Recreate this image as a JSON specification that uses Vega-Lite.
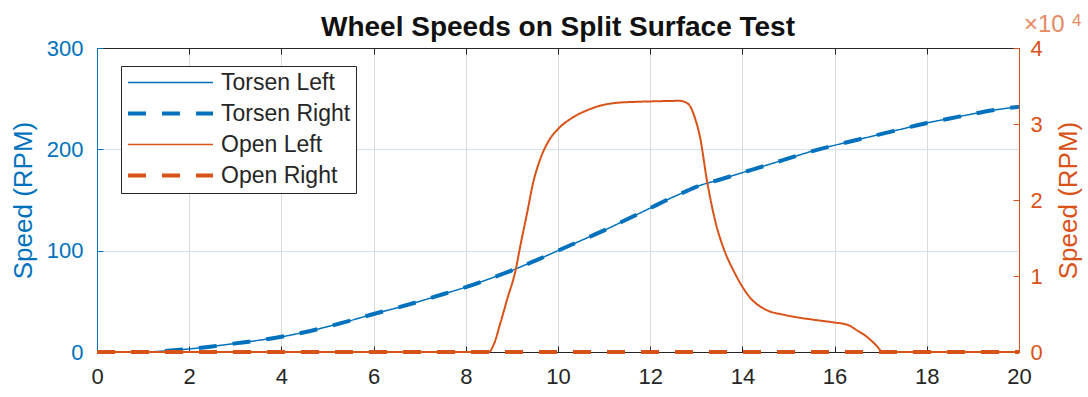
{
  "$schema": "https://vega.github.io/schema/vega-lite/v6.json",
  "width": 922,
  "height": 304,
  "autosize": "none",
  "padding": {"left": 97, "top": 48, "right": 69, "bottom": 45},
  "background": "white",
  "config": {"font": "Liberation Sans", "view": {"stroke": null}},
  "title": {"text": "Wheel Speeds on Split Surface Test", "fontSize": 28, "fontWeight": "bold", "color": "#111111", "offset": 8, "dy": 38, "anchor": "middle"},
  "datasets": {
    "speeds": [
      {"t": 0, "rpm": 0, "series": "Torsen Left"},
      {"t": 1.0, "rpm": 0, "series": "Torsen Left"},
      {"t": 1.3, "rpm": 0.5, "series": "Torsen Left"},
      {"t": 1.6, "rpm": 1.5, "series": "Torsen Left"},
      {"t": 2, "rpm": 3, "series": "Torsen Left"},
      {"t": 2.5, "rpm": 5.5, "series": "Torsen Left"},
      {"t": 3, "rpm": 8.5, "series": "Torsen Left"},
      {"t": 3.5, "rpm": 11.5, "series": "Torsen Left"},
      {"t": 4, "rpm": 15, "series": "Torsen Left"},
      {"t": 4.5, "rpm": 19.5, "series": "Torsen Left"},
      {"t": 5, "rpm": 25, "series": "Torsen Left"},
      {"t": 5.5, "rpm": 31, "series": "Torsen Left"},
      {"t": 6, "rpm": 37.5, "series": "Torsen Left"},
      {"t": 6.5, "rpm": 43.5, "series": "Torsen Left"},
      {"t": 7, "rpm": 50, "series": "Torsen Left"},
      {"t": 7.5, "rpm": 57, "series": "Torsen Left"},
      {"t": 8, "rpm": 64, "series": "Torsen Left"},
      {"t": 8.5, "rpm": 72, "series": "Torsen Left"},
      {"t": 9, "rpm": 80.5, "series": "Torsen Left"},
      {"t": 9.5, "rpm": 90, "series": "Torsen Left"},
      {"t": 10, "rpm": 100, "series": "Torsen Left"},
      {"t": 10.5, "rpm": 110, "series": "Torsen Left"},
      {"t": 11, "rpm": 120, "series": "Torsen Left"},
      {"t": 11.5, "rpm": 131, "series": "Torsen Left"},
      {"t": 12, "rpm": 142, "series": "Torsen Left"},
      {"t": 12.5, "rpm": 153, "series": "Torsen Left"},
      {"t": 12.8, "rpm": 159, "series": "Torsen Left"},
      {"t": 13, "rpm": 163, "series": "Torsen Left"},
      {"t": 13.5, "rpm": 170, "series": "Torsen Left"},
      {"t": 14, "rpm": 177, "series": "Torsen Left"},
      {"t": 14.5, "rpm": 184, "series": "Torsen Left"},
      {"t": 15, "rpm": 191, "series": "Torsen Left"},
      {"t": 15.5, "rpm": 198, "series": "Torsen Left"},
      {"t": 16, "rpm": 204, "series": "Torsen Left"},
      {"t": 16.5, "rpm": 209.5, "series": "Torsen Left"},
      {"t": 17, "rpm": 215, "series": "Torsen Left"},
      {"t": 17.5, "rpm": 220.5, "series": "Torsen Left"},
      {"t": 18, "rpm": 226, "series": "Torsen Left"},
      {"t": 18.5, "rpm": 230.5, "series": "Torsen Left"},
      {"t": 19, "rpm": 235, "series": "Torsen Left"},
      {"t": 19.5, "rpm": 239, "series": "Torsen Left"},
      {"t": 20, "rpm": 242, "series": "Torsen Left"},
      {"t": 0, "rpm": 0, "series": "Torsen Right"},
      {"t": 1.0, "rpm": 0, "series": "Torsen Right"},
      {"t": 1.3, "rpm": 0.5, "series": "Torsen Right"},
      {"t": 1.6, "rpm": 1.5, "series": "Torsen Right"},
      {"t": 2, "rpm": 3, "series": "Torsen Right"},
      {"t": 2.5, "rpm": 5.5, "series": "Torsen Right"},
      {"t": 3, "rpm": 8.5, "series": "Torsen Right"},
      {"t": 3.5, "rpm": 11.5, "series": "Torsen Right"},
      {"t": 4, "rpm": 15, "series": "Torsen Right"},
      {"t": 4.5, "rpm": 19.5, "series": "Torsen Right"},
      {"t": 5, "rpm": 25, "series": "Torsen Right"},
      {"t": 5.5, "rpm": 31, "series": "Torsen Right"},
      {"t": 6, "rpm": 37.5, "series": "Torsen Right"},
      {"t": 6.5, "rpm": 43.5, "series": "Torsen Right"},
      {"t": 7, "rpm": 50, "series": "Torsen Right"},
      {"t": 7.5, "rpm": 57, "series": "Torsen Right"},
      {"t": 8, "rpm": 64, "series": "Torsen Right"},
      {"t": 8.5, "rpm": 72, "series": "Torsen Right"},
      {"t": 9, "rpm": 80.5, "series": "Torsen Right"},
      {"t": 9.5, "rpm": 90, "series": "Torsen Right"},
      {"t": 10, "rpm": 100, "series": "Torsen Right"},
      {"t": 10.5, "rpm": 110, "series": "Torsen Right"},
      {"t": 11, "rpm": 120, "series": "Torsen Right"},
      {"t": 11.5, "rpm": 131, "series": "Torsen Right"},
      {"t": 12, "rpm": 142, "series": "Torsen Right"},
      {"t": 12.5, "rpm": 153, "series": "Torsen Right"},
      {"t": 12.8, "rpm": 159, "series": "Torsen Right"},
      {"t": 13, "rpm": 163, "series": "Torsen Right"},
      {"t": 13.5, "rpm": 170, "series": "Torsen Right"},
      {"t": 14, "rpm": 177, "series": "Torsen Right"},
      {"t": 14.5, "rpm": 184, "series": "Torsen Right"},
      {"t": 15, "rpm": 191, "series": "Torsen Right"},
      {"t": 15.5, "rpm": 198, "series": "Torsen Right"},
      {"t": 16, "rpm": 204, "series": "Torsen Right"},
      {"t": 16.5, "rpm": 209.5, "series": "Torsen Right"},
      {"t": 17, "rpm": 215, "series": "Torsen Right"},
      {"t": 17.5, "rpm": 220.5, "series": "Torsen Right"},
      {"t": 18, "rpm": 226, "series": "Torsen Right"},
      {"t": 18.5, "rpm": 230.5, "series": "Torsen Right"},
      {"t": 19, "rpm": 235, "series": "Torsen Right"},
      {"t": 19.5, "rpm": 239, "series": "Torsen Right"},
      {"t": 20, "rpm": 242, "series": "Torsen Right"},
      {"t": 0, "rpm": 0, "series": "Open Left"},
      {"t": 8.5, "rpm": 0, "series": "Open Left"},
      {"t": 8.6, "rpm": 900, "series": "Open Left"},
      {"t": 8.75, "rpm": 3800, "series": "Open Left"},
      {"t": 8.9, "rpm": 7000, "series": "Open Left"},
      {"t": 9.07, "rpm": 10500, "series": "Open Left"},
      {"t": 9.2, "rpm": 14500, "series": "Open Left"},
      {"t": 9.33, "rpm": 18300, "series": "Open Left"},
      {"t": 9.45, "rpm": 22000, "series": "Open Left"},
      {"t": 9.61, "rpm": 25300, "series": "Open Left"},
      {"t": 9.8, "rpm": 27800, "series": "Open Left"},
      {"t": 9.98, "rpm": 29200, "series": "Open Left"},
      {"t": 10.33, "rpm": 30900, "series": "Open Left"},
      {"t": 10.63, "rpm": 31800, "series": "Open Left"},
      {"t": 10.91, "rpm": 32400, "series": "Open Left"},
      {"t": 11.3, "rpm": 32800, "series": "Open Left"},
      {"t": 11.63, "rpm": 32900, "series": "Open Left"},
      {"t": 12.2, "rpm": 33000, "series": "Open Left"},
      {"t": 12.65, "rpm": 33050, "series": "Open Left"},
      {"t": 12.75, "rpm": 32900, "series": "Open Left"},
      {"t": 12.86, "rpm": 32400, "series": "Open Left"},
      {"t": 12.97, "rpm": 30800, "series": "Open Left"},
      {"t": 13.08, "rpm": 28300, "series": "Open Left"},
      {"t": 13.23, "rpm": 22600, "series": "Open Left"},
      {"t": 13.4, "rpm": 17500, "series": "Open Left"},
      {"t": 13.6, "rpm": 13500, "series": "Open Left"},
      {"t": 13.8, "rpm": 10800, "series": "Open Left"},
      {"t": 14.16, "rpm": 7200, "series": "Open Left"},
      {"t": 14.53, "rpm": 5500, "series": "Open Left"},
      {"t": 14.9, "rpm": 4900, "series": "Open Left"},
      {"t": 15.25, "rpm": 4500, "series": "Open Left"},
      {"t": 15.6, "rpm": 4200, "series": "Open Left"},
      {"t": 15.97, "rpm": 3900, "series": "Open Left"},
      {"t": 16.27, "rpm": 3600, "series": "Open Left"},
      {"t": 16.5, "rpm": 2800, "series": "Open Left"},
      {"t": 16.7, "rpm": 2000, "series": "Open Left"},
      {"t": 16.9, "rpm": 900, "series": "Open Left"},
      {"t": 17.05, "rpm": 0, "series": "Open Left"},
      {"t": 20, "rpm": 0, "series": "Open Left"},
      {"t": 0, "rpm": 0, "series": "Open Right"},
      {"t": 20, "rpm": 0, "series": "Open Right"}
    ]
  },
  "data": {"name": "speeds"},
  "layer": [
    {
      "transform": [{"filter": "indexof(datum.series, 'Torsen') == 0"}],
      "encoding": {
        "x": {"field": "t", "type": "quantitative", "scale": {"domain": [0, 20], "nice": false},
          "axis": {"orient": "bottom", "values": [0, 2, 4, 6, 8, 10, 12, 14, 16, 18, 20], "title": null, "grid": true, "gridColor": "#dadada", "domainColor": "#262626", "tickColor": "#262626", "tickSize": -6, "labelPadding": 20, "labelFontSize": 22, "labelColor": "#262626", "labelFlush": false}},
        "y": {"field": "rpm", "type": "quantitative", "scale": {"domain": [0, 300], "nice": false},
          "axis": {"orient": "left", "values": [0, 100, 200, 300], "title": "Speed (RPM)", "titleFontSize": 26, "titleFontWeight": "normal", "titleColor": "#0072BD", "titlePadding": 10, "grid": true, "gridColor": "#cfe2f2", "domainColor": "#0072BD", "tickColor": "#0072BD", "tickSize": -6, "labelPadding": 20, "labelFontSize": 22, "labelColor": "#0072BD"}},
        "color": {"field": "series", "type": "nominal",
          "scale": {"domain": ["Torsen Left", "Torsen Right", "Open Left", "Open Right"], "range": ["#0072BD", "#0072BD", "#D95319", "#D95319"]},
          "legend": {"title": null, "orient": "none", "legendX": 24, "legendY": 18, "fillColor": "white", "strokeColor": "#262626", "padding": 5, "labelFontSize": 23, "labelColor": "#262626", "symbolType": "stroke", "symbolSize": 900, "symbolOffset": 33, "labelOffset": 39, "rowPadding": 7,
            "encode": {"symbols": {"update": {"size": {"value": 7225}, "strokeWidth": {"signal": "datum.value == 'Torsen Right' || datum.value == 'Open Right' ? 4 : 1.5"}, "strokeDash": {"signal": "datum.value == 'Torsen Right' || datum.value == 'Open Right' ? [18, 16] : [1, 0]"}}}}}},
        "strokeDash": {"field": "series", "type": "nominal",
          "scale": {"domain": ["Torsen Left", "Torsen Right", "Open Left", "Open Right"], "range": [[1, 0], [18, 16], [1, 0], [18, 16]]},
          "legend": null}
      },
      "layer": [
        {"transform": [{"filter": "datum.series == 'Torsen Left'"}], "mark": {"type": "line", "strokeWidth": 1.5, "interpolate": "monotone"}},
        {"transform": [{"filter": "datum.series == 'Torsen Right'"}], "mark": {"type": "line", "strokeWidth": 4, "interpolate": "monotone"}}
      ]
    },
    {
      "layer": [
        {
          "transform": [{"filter": "datum.series == 'Open Left'"}],
          "mark": {"type": "line", "strokeWidth": 2, "interpolate": "monotone"},
          "encoding": {
            "x": {"field": "t", "type": "quantitative", "scale": {"domain": [0, 20], "nice": false},
              "axis": {"orient": "top", "values": [0, 2, 4, 6, 8, 10, 12, 14, 16, 18, 20], "title": null, "labels": false, "grid": false, "domainColor": "#262626", "tickColor": "#262626", "tickSize": -6}},
            "y": {"field": "rpm", "type": "quantitative", "scale": {"domain": [0, 40000], "nice": false},
              "axis": {"orient": "right", "values": [0, 10000, 20000, 30000, 40000], "labelExpr": "datum.value / 10000", "title": "Speed (RPM)", "titleAngle": 270, "titleBaseline": "top", "titleFontSize": 26, "titleFontWeight": "normal", "titleColor": "#D95319", "titlePadding": 13, "grid": false, "domainColor": "#D95319", "tickColor": "#D95319", "tickSize": -6, "labelPadding": 17, "labelFontSize": 22, "labelColor": "#D95319"}},
            "color": {"field": "series", "type": "nominal"},
            "strokeDash": {"field": "series", "type": "nominal"}
          }
        },
        {
          "transform": [{"filter": "datum.series == 'Open Right'"}],
          "mark": {"type": "line", "strokeWidth": 4},
          "encoding": {
            "x": {"field": "t", "type": "quantitative"},
            "y": {"field": "rpm", "type": "quantitative"},
            "color": {"field": "series", "type": "nominal"},
            "strokeDash": {"field": "series", "type": "nominal"}
          }
        },
        {
          "data": {"values": [{"label": "×10"}]},
          "mark": {"type": "text", "align": "left", "baseline": "alphabetic", "dx": 5, "dy": -16, "fontSize": 24, "color": "#E58A62"},
          "encoding": {
            "x": {"datum": 20, "type": "quantitative"},
            "y": {"datum": 40000, "type": "quantitative"},
            "text": {"field": "label"}
          }
        },
        {
          "data": {"values": [{"label": "4"}]},
          "mark": {"type": "text", "align": "left", "baseline": "alphabetic", "dx": 53, "dy": -22, "fontSize": 17, "color": "#E58A62"},
          "encoding": {
            "x": {"datum": 20, "type": "quantitative"},
            "y": {"datum": 40000, "type": "quantitative"},
            "text": {"field": "label"}
          }
        }
      ]
    }
  ],
  "resolve": {"scale": {"y": "independent"}, "axis": {"x": "independent"}}
}
